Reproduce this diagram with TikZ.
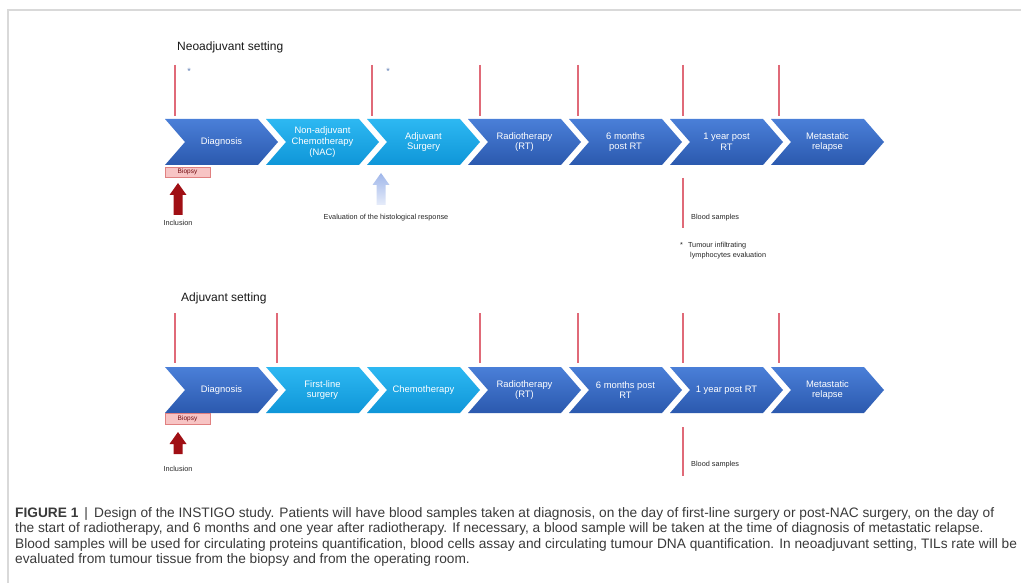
\documentclass[tikz,border=0pt]{standalone}
\usepackage{fontspec}
\setmainfont{Liberation Sans}
\usetikzlibrary{shapes.symbols}
\definecolor{dblueT}{HTML}{4A7FD8}
\definecolor{dblueB}{HTML}{2B59AE}
\definecolor{cyanT}{HTML}{2DB8F2}
\definecolor{cyanB}{HTML}{0F96D8}
\definecolor{redline}{HTML}{E06A78}
\definecolor{biopsyfill}{HTML}{F7C4C4}
\definecolor{biopsyline}{HTML}{E08080}
\definecolor{incl}{HTML}{A00F14}
\definecolor{paleT}{HTML}{9FB6EA}
\definecolor{paleB}{HTML}{E6ECFA}
\definecolor{framegrey}{HTML}{D9D9D9}
\definecolor{captxt}{HTML}{3A3A3A}
\definecolor{astc}{HTML}{5F7FB5}
\newcommand\blockup[4]{% x, ytip, ybase, style
  \path[#4] (#1-8.5,#2+12) -- (#1,#2) -- (#1+8.5,#2+12) -- (#1+4.5,#2+12)
    -- (#1+4.5,#3) -- (#1-4.5,#3) -- (#1-4.5,#2+12) -- cycle;}
\tikzset{
  chev/.style={signal, signal from=west, signal to=east, signal pointer angle=98,
    minimum width=113pt, minimum height=46pt, inner sep=0pt, draw=none,
    text=white, font=\fontsize{9.4}{10.6}\selectfont, align=center},
  dark/.style={chev, top color=dblueT, bottom color=dblueB},
  light/.style={chev, top color=cyanT, bottom color=cyanB},
  redtick/.style={draw=redline, line width=1.8pt},
  biopsy/.style={draw=biopsyline, fill=biopsyfill, line width=0.6pt, minimum width=45pt,
    inner sep=0pt, text=incl!70!black, font=\fontsize{6.5}{6.5}\selectfont},
  smalltxt/.style={font=\fontsize{7.3}{10.5}\selectfont, text=black!85, inner sep=0pt},
  asttxt/.style={font=\fontsize{9}{9}\selectfont, text=astc, inner sep=0pt},
  titletxt/.style={font=\fontsize{12}{13}\selectfont, text=black!90, inner sep=0pt, anchor=west},
  capline/.style={font=\fontsize{13.7}{15}\selectfont, text=captxt, inner sep=0pt, anchor=base west},
}
\begin{document}
\begin{tikzpicture}[x=1pt,y=-1pt]
\useasboundingbox (0,0) rectangle (1021,583);
\fill[white] (0,0) rectangle (1021,583);
% frame
\draw[framegrey, line width=1.5pt] (8,583) -- (8,10) -- (1021,10);

% ---------------- Neoadjuvant setting
\node[titletxt] (tneo) at (177,47) {Neoadjuvant setting};
\node[dark]  (n1) at (221.5,142) {Diagnosis};
\node[light] (n2) at (322.5,142) {Non-adjuvant\\Chemotherapy\\(NAC)};
\node[light] (n3) at (423.5,142) {Adjuvant\\Surgery};
\node[dark]  (n4) at (524.5,142) {Radiotherapy\\(RT)};
\node[dark]  (n5) at (625.5,142) {6 months\\post RT};
\node[dark]  (n6) at (726.5,142) {1 year post\\RT};
\node[dark]  (n7) at (827.5,142) {Metastatic\\relapse};
\foreach \x in {175,372,480,578,683,779} \draw[redtick] (\x,65) -- (\x,116);
\node[asttxt] (s1) at (189,71) {*};
\node[asttxt] (s2) at (388,71) {*};
\node[biopsy, minimum height=10pt] (b1) at (187.5,172) {Biopsy};
\blockup{178}{183}{215}{fill=incl}
\node[smalltxt] (i1) at (178,223) {Inclusion};
\blockup{381}{173}{205}{top color=paleT, bottom color=paleB}
\node[smalltxt] (ev) at (386,218) {Evaluation of the histological response};
\draw[redtick] (683,178) -- (683,228);
\node[smalltxt, anchor=west] (bs1) at (691,218) {Blood samples};
\node[smalltxt, anchor=north west, align=left] (til) at (680,242) {*\hspace{5pt}Tumour infiltrating\\\hspace{10pt}lymphocytes evaluation};

% ---------------- Adjuvant setting
\node[titletxt] (tadj) at (181,298) {Adjuvant setting};
\node[dark]  (a1) at (221.5,390) {Diagnosis};
\node[light] (a2) at (322.5,390) {First-line\\surgery};
\node[light] (a3) at (423.5,390) {Chemotherapy};
\node[dark]  (a4) at (524.5,390) {Radiotherapy\\(RT)};
\node[dark]  (a5) at (625.5,390) {6 months post\\RT};
\node[dark]  (a6) at (726.5,390) {1 year post RT};
\node[dark]  (a7) at (827.5,390) {Metastatic\\relapse};
\foreach \x in {175,277,480,578,683,779} \draw[redtick] (\x,313) -- (\x,363);
\node[biopsy, minimum height=11pt] (b2) at (187.5,419) {Biopsy};
\blockup{178}{432}{454}{fill=incl}
\node[smalltxt] (i2) at (178,469) {Inclusion};
\draw[redtick] (683,427) -- (683,476);
\node[smalltxt, anchor=west] (bs2) at (691,465) {Blood samples};

% ---------------- caption
\node[capline] (c1) at (15,517) {\textbf{FIGURE 1}\, |\, Design of the INSTIGO study. Patients will have blood samples taken at diagnosis, on the day of first-line surgery or post-NAC surgery, on the day of};
\node[capline] (c2) at (15,532.5) {the start of radiotherapy, and 6 months and one year after radiotherapy. If necessary, a blood sample will be taken at the time of diagnosis of metastatic relapse.};
\node[capline] (c3) at (15,548) {Blood samples will be used for circulating proteins quantification, blood cells assay and circulating tumour DNA quantification. In neoadjuvant setting, TILs rate will be};
\node[capline] (c4) at (15,563.5) {evaluated from tumour tissue from the biopsy and from the operating room.};
\end{tikzpicture}
\end{document}
